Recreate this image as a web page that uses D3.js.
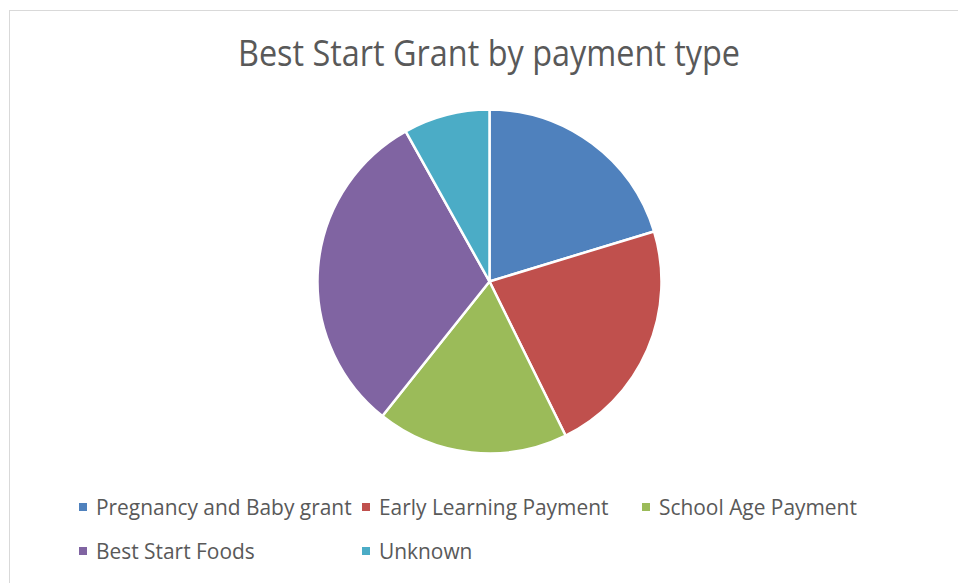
<!DOCTYPE html>
<html>
<head>
<meta charset="utf-8">
<script src="https://cdn.jsdelivr.net/npm/d3@7"></script>
<style>
  body { margin: 0; background: #fff; }
  text { font-family: "Open Sans", sans-serif; fill: #595959; }
</style>
</head>
<body>
<div id="chart"></div>
<script>
// payment types and their share (%)
var categories = ["Pregnancy and Baby grant", "Early Learning Payment", "School Age Payment", "Best Start Foods", "Unknown"];
var shares = [20.3, 22.4, 18.0, 31.2, 8.1];
var colours = ["#4F81BD", "#C0504D", "#9BBB59", "#8064A2", "#4BACC6"];
var title = "Best Start Grant by payment type";

var width = 958, height = 583;

var svg = d3.select("#chart")
  .append("svg")
    .attr("width", width)
    .attr("height", height);

// chart area border
svg.append("rect")
  .attr("x", 9.5)
  .attr("y", 10.5)
  .attr("width", width)
  .attr("height", height)
  .attr("fill", "none")
  .attr("stroke", "#d9d9d9")
  .attr("stroke-width", 1);

// squeeze a text to look like the narrower original font
function squeeze(sel, f) {
  sel.each(function() {
    var w = this.getComputedTextLength();
    d3.select(this).attr("textLength", w * f).attr("lengthAdjust", "spacingAndGlyphs");
  });
}

svg.append("text")
  .attr("x", 489)
  .attr("y", 66)
  .attr("text-anchor", "middle")
  .style("font-size", "36px")
  .text(title)
  .call(squeeze, 0.90);

var data = categories.map(function(c, i) { return {name: c, value: shares[i], colour: colours[i]}; });

var pie = d3.pie()
  .sort(null)
  .value(function(d) { return d.value; });

var arc = d3.arc()
  .innerRadius(0)
  .outerRadius(172);

var g = svg.append("g")
  .attr("transform", "translate(489.5,281.5)");

g.selectAll("path")
  .data(pie(data))
  .enter()
  .append("path")
    .attr("d", arc)
    .attr("fill", function(d) { return d.data.colour; })
    .attr("stroke", "#fff")
    .attr("stroke-width", 2.5)
    .attr("stroke-linejoin", "round");

// legend, 3 per row
var colX = [79, 362, 642];
var rowY = [507, 551];

var leg = svg.append("g")
  .selectAll("g")
  .data(data)
  .enter()
  .append("g")
    .attr("transform", function(d, i) {
      return "translate(" + colX[i % 3] + "," + rowY[Math.floor(i / 3)] + ")";
    });

leg.append("rect")
  .attr("x", 0)
  .attr("y", -4)
  .attr("width", 8)
  .attr("height", 8)
  .attr("fill", function(d) { return d.colour; });

leg.append("text")
  .attr("x", 17)
  .attr("y", 7.5)
  .style("font-size", "22px")
  .text(function(d) { return d.name; })
  .call(squeeze, 0.95);
</script>
</body>
</html>
